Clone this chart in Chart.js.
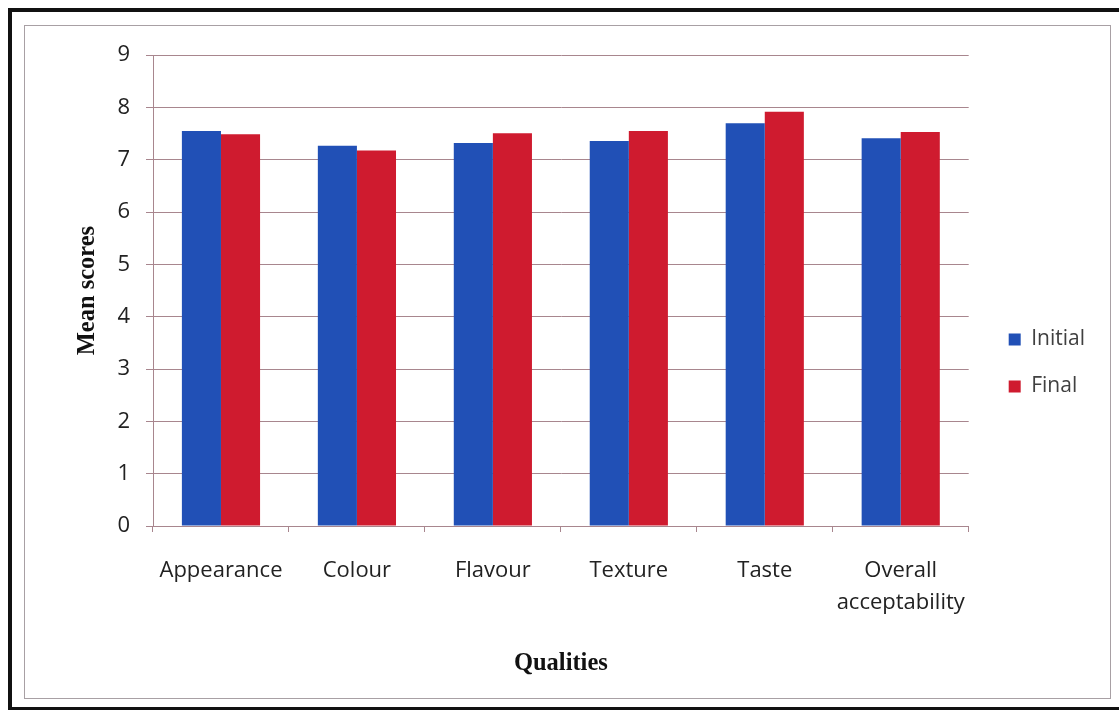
<!DOCTYPE html>
<html>
<head>
<meta charset="utf-8">
<script src="https://cdn.jsdelivr.net/npm/chart.js@4"></script>
<style>
  body { margin: 0; background: #fff; overflow: hidden; }
  .frame {
    position: absolute; left: 8px; top: 8px; width: 1120px; height: 695px;
    border-top: 4px solid #111; border-left: 4px solid #111; border-bottom: 4px solid #111;
  }
  .chart-box {
    position: absolute; left: 24px; top: 25px; width: 1085px; height: 672px;
    border: 1px solid #a8a0a4; background: #fff;
  }
  .chart-box canvas { display: block; }
</style>
</head>
<body>
<div class="frame"></div>
<div class="chart-box"><canvas id="chart" width="1085" height="672"></canvas></div>
<script>
// data
const qualities = ["Appearance", "Colour", "Flavour", "Texture", "Taste", ["Overall", "acceptability"]];
const initialScores = [7.55, 7.27, 7.32, 7.36, 7.70, 7.41];
const finalScores = [7.49, 7.18, 7.51, 7.55, 7.92, 7.53];
const seriesNames = ["Initial", "Final"];

const gridColor = "#a8868e";
const labelFont = { family: "'Open Sans', sans-serif", size: 22, lineHeight: 1.2 };
const titleFont = { family: "'Liberation Serif', 'Times New Roman', serif", size: 24.5, weight: "bold" };

// push legend a bit to the right of the plot, like the original
const legendShift = {
  id: "legendShift",
  afterLayout(chart) {
    chart.legend.left += 14;
    chart.legend.right += 14;
  },
};

const ctx = document.getElementById("chart").getContext("2d");

const chart = new Chart(ctx, {
  type: "bar",
  data: {
    labels: qualities,
    datasets: [
      {
        label: seriesNames[0],
        data: initialScores,
        backgroundColor: "#2150b6",
        categoryPercentage: 0.575,
        barPercentage: 1,
      },
      {
        label: seriesNames[1],
        data: finalScores,
        backgroundColor: "#cf1b2f",
        categoryPercentage: 0.575,
        barPercentage: 1,
      },
    ],
  },
  plugins: [legendShift],
  options: {
    responsive: false,
    animation: false,
    layout: {
      padding: { left: 40, top: 16, right: 29, bottom: 14 },
    },
    scales: {
      y: {
        min: 0,
        max: 9,
        ticks: {
          stepSize: 1,
          color: "#222",
          font: labelFont,
          padding: 16,
        },
        grid: { color: gridColor, tickLength: 7 },
        border: { color: gridColor },
        title: {
          display: true,
          text: "Mean scores",
          color: "#111",
          font: titleFont,
          padding: { top: 8, bottom: 0 },
        },
        afterFit: (scale) => { scale.width = 88; },
      },
      x: {
        ticks: {
          color: "#222",
          font: { ...labelFont, lineHeight: 1.48 },
          padding: 22,
          maxRotation: 0,
          autoSkip: false,
        },
        grid: { drawOnChartArea: false, color: gridColor, tickLength: 6 },
        border: { color: gridColor },
        title: {
          display: true,
          text: "Qualities",
          color: "#111",
          font: titleFont,
          padding: { top: 4, bottom: 6 },
        },
        afterFit: (scale) => { scale.height = 158; },
      },
    },
    plugins: {
      legend: {
        position: "right",
        labels: {
          boxWidth: 12,
          boxHeight: 12,
          padding: 26,
          color: "#404040",
          font: { family: "'Open Sans', sans-serif", size: 21 },
        },
      },
      tooltip: { enabled: false },
    },
  },
});
</script>
</body>
</html>
